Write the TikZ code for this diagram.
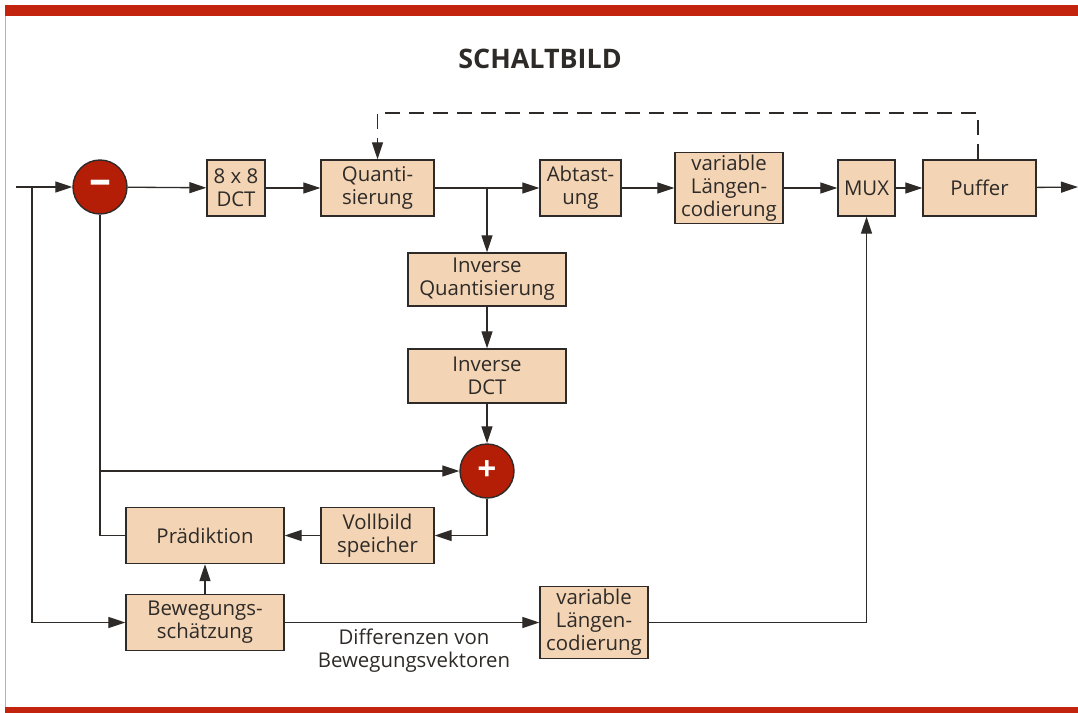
\documentclass[tikz,border=0pt]{standalone}
\usepackage{fontspec}
\setmainfont{Open Sans}
\usetikzlibrary{arrows.meta}
\definecolor{balkenrot}{HTML}{C2240E}
\definecolor{kastenbeige}{HTML}{F3D4B4}
\definecolor{kreisrot}{HTML}{B51E06}
\definecolor{strich}{HTML}{2E2A28}
\tikzset{
  block/.style={draw=strich, line width=0.8pt, fill=kastenbeige, align=center, inner sep=0pt,
    text=strich, font=\fontsize{11.6}{13}\selectfont},
  summe/.style={circle, draw=strich, line width=0.8pt, fill=kreisrot, minimum size=1.08cm,
    inner sep=0pt, text=white, font=\fontsize{19}{19}\selectfont\bfseries},
  linie/.style={draw=strich, line width=0.75pt},
  pfeil/.style={linie, -{Triangle[length=3.4mm,width=2.2mm]}}
}
\begin{document}
\begin{tikzpicture}[x=0.02cm,y=-0.02cm]
\useasboundingbox (0,0) rectangle (1078,713);
\fill[balkenrot] (5,5) rectangle (1078,16);
\fill[balkenrot] (5,707) rectangle (1078,713);
\draw[gray!60, line width=0.5pt] (5,16) -- (5,707);

\node[text=strich, font=\fontsize{15.3}{15}\selectfont\bfseries] (titel) at (540,59) {SCHALTBILD};

  \node[summe, font=\fontsize{25}{25}\selectfont\bfseries, text height=0.9em, text depth=0pt] (minus) at (100,187) {–};
  \node[block, minimum width=1.16cm, minimum height=1.12cm] (dct) at (236,188) {8 x 8\\DCT};
  \node[block, minimum width=2.26cm, minimum height=1.12cm] (quant) at (377.5,188) {Quanti-\\sierung};
  \node[block, minimum width=1.62cm, minimum height=1.12cm] (abtast) at (580.5,188) {Abtast-\\ung};
  \node[block, minimum width=2.16cm, minimum height=1.42cm] (vlc) at (729,188) {variable\\Längen-\\codierung};
  \node[block, minimum width=1.14cm, minimum height=1.12cm] (mux) at (866.5,188) {MUX};
  \node[block, minimum width=2.26cm, minimum height=1.12cm] (puffer) at (979.5,188) {Puffer};

  \node[block, minimum width=3.16cm, minimum height=1.06cm] (invq) at (487,279.5) {Inverse\\Quantisierung};
  \node[block, minimum width=3.16cm, minimum height=1.08cm] (invdct) at (487,376) {Inverse\\DCT};
  \node[summe] (plus) at (487,471) {+};

  \node[block, minimum width=2.26cm, minimum height=1.12cm] (voll) at (377.5,535.5) {Vollbild\\speicher};
  \node[block, minimum width=3.16cm, minimum height=1.12cm] (praed) at (205,535.5) {Prädiktion};
  \node[block, minimum width=3.16cm, minimum height=1.12cm] (beweg) at (205,622.5) {Bewegungs-\\schätzung};
  \node[block, minimum width=2.16cm, minimum height=1.44cm] (vlc2) at (594,622.5) {variable\\Längen-\\codierung};
  \node[text=strich, align=center, font=\fontsize{11.6}{13}\selectfont] (diff) at (414,651) {Differenzen von\\Bewegungsvektoren};

  \coordinate (ein) at (16,187);
  \coordinate (abzw) at (32,187);
  \coordinate (aus) at (1078,187);
  \coordinate (rueck) at (978,113);

  \draw[pfeil] (ein) -- (minus);
  \draw[pfeil] (minus) -- (dct);
  \draw[pfeil] (dct) -- (quant);
  \draw[pfeil] (quant) -- (abtast);
  \draw[pfeil] (abtast) -- (vlc);
  \draw[pfeil] (vlc) -- (mux);
  \draw[pfeil] (mux) -- (puffer);
  \draw[pfeil] (puffer) -- (aus);

  \draw[pfeil] (invq.north |- quant.east) -- (invq.north);
  \draw[pfeil] (invq) -- (invdct);
  \draw[pfeil] (invdct) -- (plus);
  \draw[pfeil] (plus.south) |- (voll.east);
  \draw[pfeil] (voll) -- (praed);
  \draw[linie] (minus.south) |- (praed.west);
  \draw[pfeil] (minus.south |- plus.west) -- (plus.west);

  \draw[pfeil] (abzw) |- (beweg.west);
  \draw[pfeil] (beweg) -- (praed);
  \draw[pfeil] (beweg) -- (vlc2);
  \draw[pfeil] (vlc2.east) -| (mux.south);

  \draw[pfeil, dash pattern=on 0.3cm off 0.18cm] (puffer.north -| rueck) -- (rueck) -| (quant.north);
\end{tikzpicture}
\end{document}
